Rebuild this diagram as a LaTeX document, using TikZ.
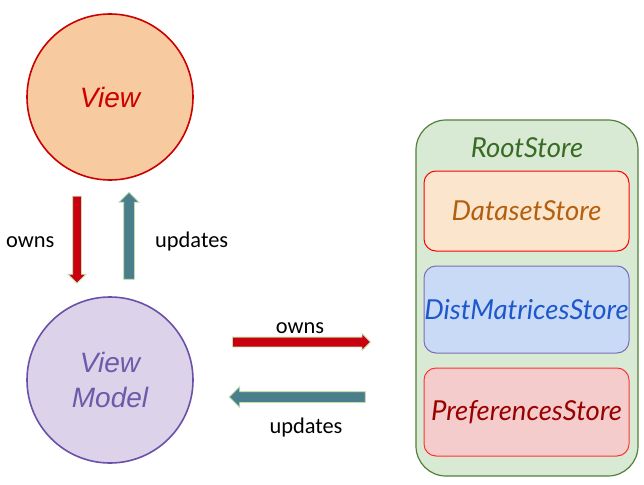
\documentclass[tikz,border=0pt]{standalone}
\usepackage{fontspec}
\setmainfont{Liberation Sans}
\newfontfamily\latofont{Lato}
\newfontfamily\labelfont{Carlito}
\usetikzlibrary{shapes.arrows}
\definecolor{viewfill}{HTML}{F7CA9F}
\definecolor{viewline}{HTML}{CC0000}
\definecolor{vmfill}{HTML}{DCD3EA}
\definecolor{vmline}{HTML}{6A50A7}
\definecolor{vmtext}{HTML}{6B5BA8}
\definecolor{rootfill}{HTML}{D8EAD4}
\definecolor{rootline}{HTML}{53803A}
\definecolor{roottext}{HTML}{3A6B25}
\definecolor{dsfill}{HTML}{FCE5CD}
\definecolor{dsline}{HTML}{FF0000}
\definecolor{dstext}{HTML}{B26010}
\definecolor{dmfill}{HTML}{C9DAF6}
\definecolor{dmline}{HTML}{7B6DB5}
\definecolor{dmtext}{HTML}{1D57CC}
\definecolor{psfill}{HTML}{F4CCCC}
\definecolor{psline}{HTML}{FF3333}
\definecolor{pstext}{HTML}{990000}
\definecolor{ownsred}{HTML}{C9000D}
\definecolor{updteal}{HTML}{4A7E8A}
\definecolor{arrowedge}{HTML}{C3DFB0}
\tikzset{
  circnode/.style={circle, minimum size=166pt, inner sep=0pt, line width=1.6pt, align=center,
    font=\itshape\fontsize{28}{35}\selectfont},
  storebox/.style={rectangle, rounded corners=12pt, minimum width=205pt, inner sep=0pt, line width=1pt,
    font=\latofont\itshape\fontsize{27.5}{32}\selectfont},
  blockarrow/.style={single arrow, inner xsep=0pt, line width=0.8pt, draw=arrowedge,
    single arrow head indent=0pt},
  lbl/.style={font=\labelfont\fontsize{22.4}{26}\selectfont, inner sep=0pt}
}
\begin{document}
\begin{tikzpicture}[x=1pt,y=-1pt]
\useasboundingbox (0,0) rectangle (644,484);
% circles
\node[circnode, fill=viewfill, draw=viewline, text=viewline] (view) at (110,97) {View};
\node[circnode, fill=vmfill, draw=vmline, text=vmtext] (vm) at (110,380) {View\\Model};
% root store
\node[rectangle, rounded corners=30pt, fill=rootfill, draw=rootline, line width=1.2pt,
  minimum width=222pt, minimum height=356pt] (root) at (527,298) {};
\node[font=\latofont\itshape\fontsize{27.5}{32}\selectfont, text=roottext] (roottitle) at (527,148) {RootStore};
\node[storebox, fill=dsfill, draw=dsline, text=dstext, minimum height=80pt] (ds) at (526.5,211) {DatasetStore};
\node[storebox, fill=dmfill, draw=dmline, text=dmtext, minimum height=87pt] (dm) at (526.5,309.5) {DistMatricesStore};
\node[storebox, fill=psfill, draw=psline, text=pstext, minimum height=88pt] (ps) at (526.5,412) {PreferencesStore};
% arrows
\node[blockarrow, fill=ownsred, rotate=270, minimum height=87pt,
  inner ysep=4pt, single arrow head extend=4.5pt] (a1) at (77,237.5) {};
\node[blockarrow, fill=updteal, rotate=90, minimum height=87pt,
  inner ysep=5pt, single arrow head extend=4.5pt] (a2) at (129,238.5) {};
\node[blockarrow, fill=ownsred, minimum height=138pt,
  inner ysep=4.5pt, single arrow head extend=3.5pt] (a3) at (299,342) {};
\node[blockarrow, fill=updteal, rotate=180, minimum height=136pt,
  inner ysep=5pt, single arrow head extend=5pt] (a4) at (300,397) {};
% labels
\node[lbl, anchor=west] (l1) at (6,242) {owns};
\node[lbl, anchor=west] (l2) at (155,242) {updates};
\node[lbl] (l3) at (300,328) {owns};
\node[lbl] (l4) at (306,428) {updates};
\end{tikzpicture}
\end{document}
